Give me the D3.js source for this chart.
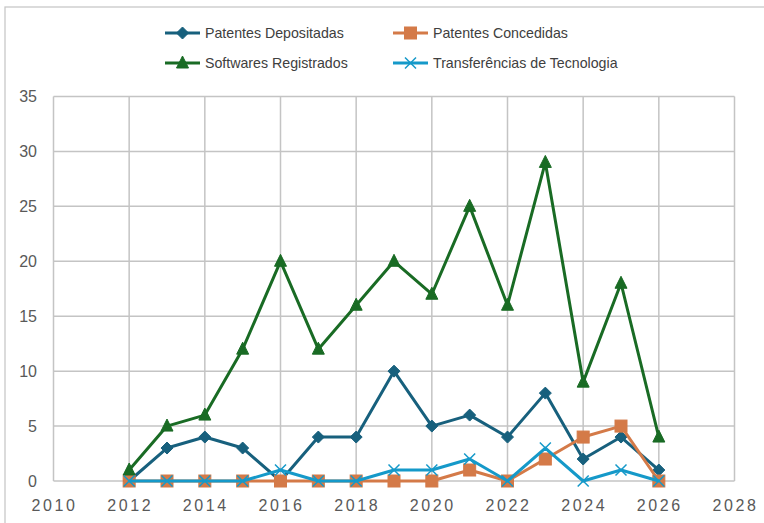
<!DOCTYPE html>
<html>
<head>
    <meta charset="utf-8">
    <style>
        body { margin: 0; background: #fff; overflow: hidden; }
        svg { display: block; font-family: 'Liberation Sans', Arial, sans-serif; }
    </style>
</head>
<body>
<svg width="764" height="523"></svg>
<script src="https://cdn.jsdelivr.net/npm/d3@7"></script>
<script>
    // data
    let years = [2012, 2013, 2014, 2015, 2016, 2017, 2018, 2019, 2020, 2021, 2022, 2023, 2024, 2025, 2026];
    let depositadas = [0, 3, 4, 3, 0, 4, 4, 10, 5, 6, 4, 8, 2, 4, 1];
    let concedidas = [0, 0, 0, 0, 0, 0, 0, 0, 0, 1, 0, 2, 4, 5, 0];
    let softwares = [1, 5, 6, 12, 20, 12, 16, 20, 17, 25, 16, 29, 9, 18, 4];
    let transferencias = [0, 0, 0, 0, 1, 0, 0, 1, 1, 2, 0, 3, 0, 1, 0];
    let xTicks = [2010, 2012, 2014, 2016, 2018, 2020, 2022, 2024, 2026, 2028];
    let yTicks = [0, 5, 10, 15, 20, 25, 30, 35];

    let series = [
        { name: "Patentes Depositadas", values: depositadas, color: "#17607D", marker: "diamond" },
        { name: "Patentes Concedidas", values: concedidas, color: "#D47A48", marker: "square" },
        { name: "Softwares Registrados", values: softwares, color: "#196B24", marker: "triangle" },
        { name: "Transferências de Tecnologia", values: transferencias, color: "#1599C9", marker: "cross" }
    ];

    let svg = d3.select("svg");

    // outer chart border
    svg.append("rect")
        .attr("x", 5).attr("y", 7)
        .attr("width", 800).attr("height", 600)
        .style("fill", "none").style("stroke", "#c8c8c8").style("stroke-width", 1.3);

    let x = d3.scaleLinear().domain([2010, 2028]).range([53.5, 734.5]);
    let y = d3.scaleLinear().domain([0, 35]).range([481, 96.5]);

    // gridlines
    svg.append("g")
        .selectAll("line")
        .data(yTicks)
        .join("line")
        .attr("x1", x(2010)).attr("x2", x(2028))
        .attr("y1", d => y(d)).attr("y2", d => y(d))
        .style("stroke", "#c4c4c4").style("stroke-width", 1.5);

    svg.append("g")
        .selectAll("line")
        .data(xTicks)
        .join("line")
        .attr("x1", d => x(d)).attr("x2", d => x(d))
        .attr("y1", y(0)).attr("y2", y(35))
        .style("stroke", "#c4c4c4").style("stroke-width", 1.5);

    // tick labels
    svg.append("g")
        .selectAll("text")
        .data(yTicks)
        .join("text")
        .attr("x", 37).attr("y", d => y(d))
        .attr("dy", "0.36em")
        .attr("text-anchor", "end")
        .style("font-size", "16px").style("fill", "#595959")
        .text(d => d);

    svg.append("g")
        .selectAll("text")
        .data(xTicks)
        .join("text")
        .attr("x", d => x(d) + 1).attr("y", 505)
        .attr("dy", "0.36em")
        .attr("text-anchor", "middle")
        .style("font-size", "16px").style("fill", "#595959")
        .style("letter-spacing", "2.6px")
        .text(d => d);

    // markers
    function drawMarker(g, type, color, px, py) {
        if (type == "diamond") {
            g.append("path")
                .attr("d", `M${px},${py - 6}L${px + 6},${py}L${px},${py + 6}L${px - 6},${py}Z`)
                .style("fill", color).style("stroke", color).style("stroke-width", 1);
        } else if (type == "square") {
            g.append("rect")
                .attr("x", px - 6).attr("y", py - 6).attr("width", 12).attr("height", 12)
                .style("fill", color).style("stroke", color).style("stroke-width", 1);
        } else if (type == "triangle") {
            g.append("path")
                .attr("d", `M${px},${py - 7}L${px + 6},${py + 5}L${px - 6},${py + 5}Z`)
                .style("fill", color).style("stroke", color).style("stroke-width", 1);
        } else {
            g.append("path")
                .attr("d", `M${px - 5.5},${py - 5.5}L${px + 5.5},${py + 5.5}M${px + 5.5},${py - 5.5}L${px - 5.5},${py + 5.5}`)
                .style("fill", "none").style("stroke", color).style("stroke-width", 1.5);
        }
    }

    let line = d3.line()
        .x((d, i) => x(years[i]))
        .y(d => y(d));

    series.forEach(s => {
        let g = svg.append("g");
        g.append("path")
            .attr("d", line(s.values))
            .style("fill", "none")
            .style("stroke", s.color)
            .style("stroke-width", 3)
            .style("stroke-linejoin", "round");
        s.values.forEach((v, i) => drawMarker(g, s.marker, s.color, x(years[i]), y(v)));
    });

    // legend
    let legendPos = [[165, 33], [393, 33], [165, 63], [393, 63]];
    series.forEach((s, i) => {
        let [lx, ly] = legendPos[i];
        let g = svg.append("g");
        g.append("line")
            .attr("x1", lx).attr("x2", lx + 35)
            .attr("y1", ly).attr("y2", ly)
            .style("stroke", s.color).style("stroke-width", 3);
        drawMarker(g, s.marker, s.color, lx + 17.5, ly);
        g.append("text")
            .attr("x", lx + 40).attr("y", ly)
            .attr("dy", "0.36em")
            .style("font-size", "14.2px").style("fill", "#404040")
            .text(s.name);
    });
</script>
</body>
</html>
